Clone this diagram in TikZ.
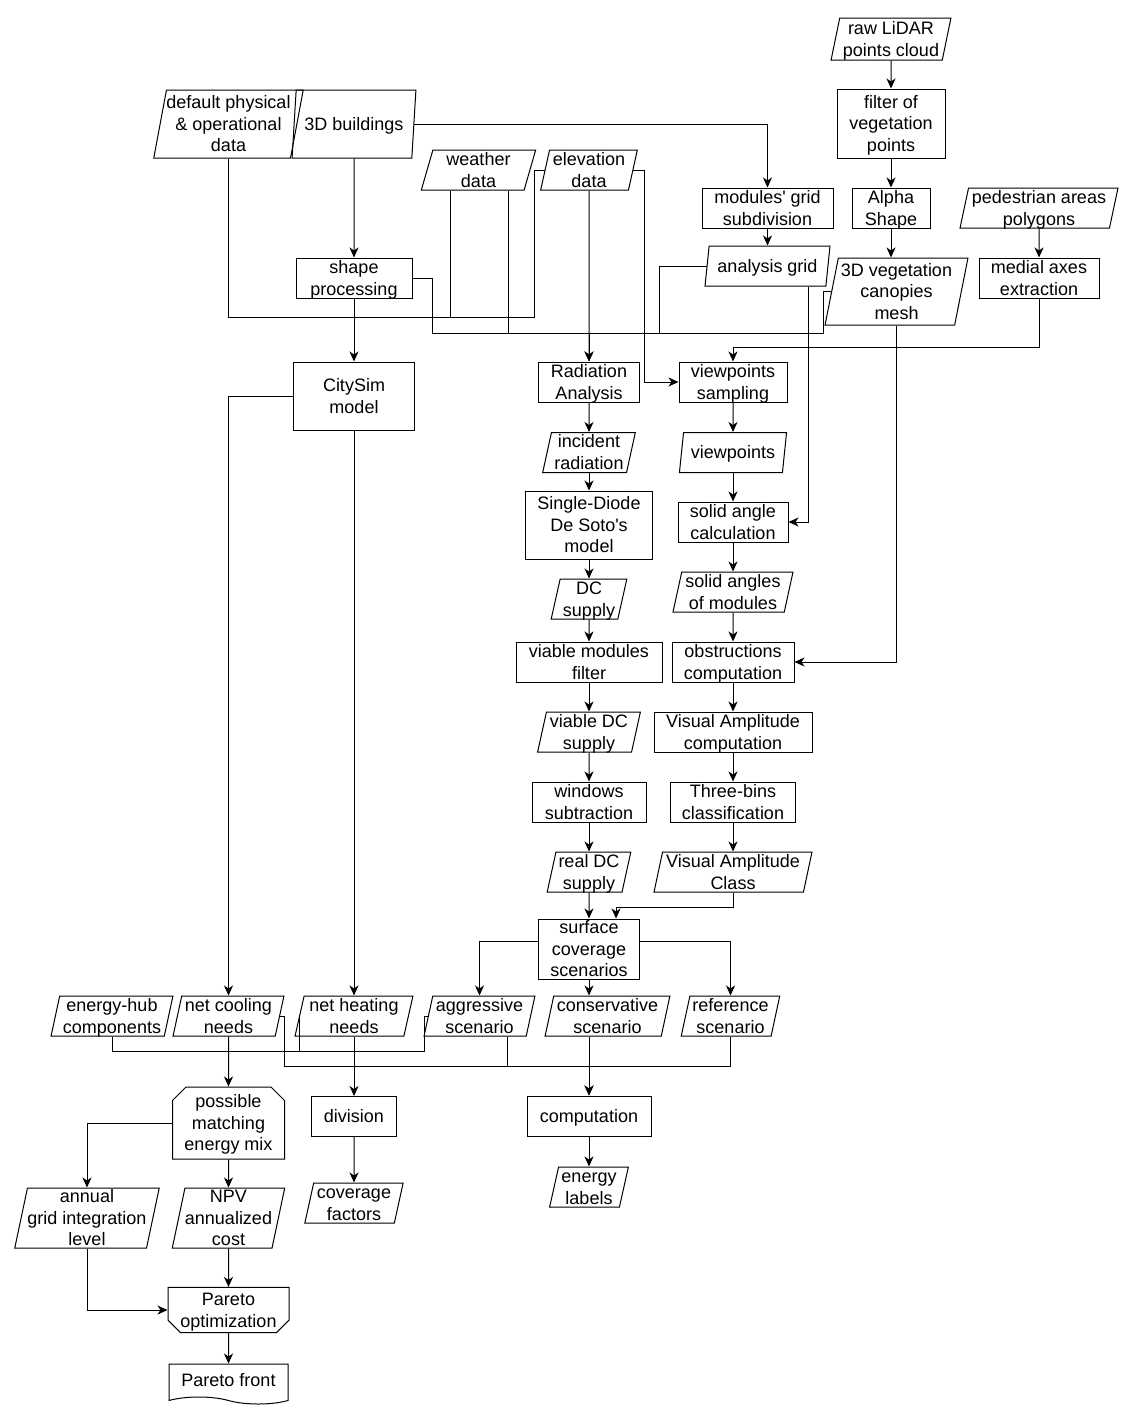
\documentclass[tikz,border=0pt]{standalone}
\usepackage{fontspec}
\setmainfont{Liberation Sans}
\usetikzlibrary{arrows.meta,shapes.geometric,shapes.misc,shapes.symbols}

\begin{document}
\begin{tikzpicture}[x=1pt,y=-1pt,line width=1pt,font=\fontsize{18}{21.6}\selectfont,>={Stealth[length=10pt,width=9pt,inset=3pt]},
  wh/.style 2 args={minimum width=#1pt,minimum height=#2pt},
  txt/.style={align=center,inner xsep=0pt,inner ysep=-2.5pt,text height=38.6pt,text depth=4.5pt},
  one/.style={text height=17pt},
  three/.style={text height=60.2pt},
  proc/.style={draw,rectangle,txt},
  data/.style={draw,trapezium,trapezium left angle=78,trapezium right angle=102,trapezium stretches=true,txt},
  mixbox/.style={draw,chamfered rectangle,chamfered rectangle corners={north west,north east},chamfered rectangle xsep=10pt,txt},
  optbox/.style={draw,chamfered rectangle,chamfered rectangle corners={south west,south east},chamfered rectangle xsep=9pt,txt},
  docbox/.style={draw,tape,tape bend top=none,tape bend bottom=out and in,tape bend height=7pt,txt}]
\useasboundingbox (0,0) rectangle (1134,1416);
\node[data,wh={120}{42}] (raw) at (891,39) {raw LiDAR\\points cloud};
\node[proc,three,wh={108}{69}] (filter) at (891,123.5) {filter of\\vegetation\\points};
\node[proc,wh={78}{40}] (alpha) at (891,208) {Alpha\\Shape};
\node[data,wh={158}{40}] (ped) at (1039,208) {pedestrian areas\\polygons};
\node[data,three,wh={143}{67}] (vegmesh) at (896.5,291.5) {3D vegetation\\canopies\\mesh};
\node[proc,wh={120}{40}] (medial) at (1039,278) {medial axes\\extraction};
\node[data,three,wh={149}{68}] (dflt) at (228.5,124) {default physical\\\& operational\\data};
\node[data,one,wh={124}{68}] (bldg) at (354,124) {3D buildings};
\node[data,wh={115}{40}] (weather) at (478.5,170) {weather\\data};
\node[data,wh={97}{40}] (elev) at (589,170) {elevation\\data};
\node[proc,wh={131}{40}] (modgrid) at (767.5,208) {modules\textquotesingle{} grid\\subdivision};
\node[data,one,wh={125}{40}] (anagrid) at (767.5,266) {analysis grid};
\node[proc,wh={116}{40}] (shape) at (354,278) {shape\\processing};
\node[proc,wh={121}{68}] (citysim) at (354,396) {CitySim\\model};
\node[proc,wh={101}{40}] (radan) at (589,382) {Radiation\\Analysis};
\node[proc,wh={108}{40}] (vps) at (733,382) {viewpoints\\sampling};
\node[data,wh={93}{40}] (incident) at (589,452.5) {incident\\radiation};
\node[data,one,wh={108}{40}] (vp) at (733,452.5) {viewpoints};
\node[proc,three,wh={127}{68}] (sdiode) at (589,525) {Single-Diode\\De Soto\textquotesingle s\\model};
\node[proc,wh={110}{40}] (solidcalc) at (733,522) {solid angle\\calculation};
\node[data,wh={76}{40}] (dc) at (589,599) {DC\\supply};
\node[data,wh={120}{40}] (solidang) at (733,592) {solid angles\\of modules};
\node[proc,wh={146}{40}] (viable) at (589,662) {viable modules\\filter};
\node[proc,wh={122}{40}] (obstr) at (733,662) {obstructions\\computation};
\node[data,wh={103}{40}] (vdc) at (589,732) {viable DC\\supply};
\node[proc,wh={158}{40}] (vacomp) at (733,732) {Visual Amplitude\\computation};
\node[proc,wh={114}{40}] (windows) at (589,802) {windows\\subtraction};
\node[proc,wh={125}{40}] (threebins) at (733,802) {Three-bins\\classification};
\node[data,wh={84}{40}] (rdc) at (589,872) {real DC\\supply};
\node[data,wh={158}{40}] (vac) at (733,872) {Visual Amplitude\\Class};
\node[proc,three,wh={101}{60}] (surf) at (589,949) {surface\\coverage\\scenarios};
\node[data,wh={122}{40}] (hub) at (112,1016) {energy-hub\\components};
\node[data,wh={111}{40}] (cool) at (228.5,1016) {net cooling\\needs};
\node[data,wh={118}{40}] (heat) at (354,1016) {net heating\\needs};
\node[data,wh={111}{40}] (aggr) at (479.5,1016) {aggressive\\scenario};
\node[data,wh={125}{40}] (cons) at (607.5,1016) {conservative\\scenario};
\node[data,wh={99}{40}] (ref) at (730.5,1016) {reference\\scenario};
\node[mixbox,three,wh={112}{72}] (mix) at (228.5,1123) {possible\\matching\\energy mix};
\node[proc,one,wh={85}{40}] (division) at (354,1116.5) {division};
\node[proc,one,wh={124}{40}] (comp) at (589,1116) {computation};
\node[data,wh={79}{40}] (labels) at (589,1187) {energy\\labels};
\node[data,three,wh={142}{60}] (annual) at (87,1218) {annual\\grid integration\\level};
\node[data,three,wh={111}{60}] (npv) at (228.5,1218) {NPV\\annualized\\cost};
\node[data,wh={99}{40}] (covf) at (354,1203) {coverage\\factors};
\node[optbox,wh={121}{40}] (pareto) at (228.5,1310) {Pareto\\optimization};
\node[docbox,one,wh={119}{40}] (front) at (228.5,1380.5) {Pareto front};
\draw[->] (raw) -- (filter);
\draw[->] (filter) -- (alpha);
\draw[->] (alpha.south) -- (alpha.south |- vegmesh.north);
\draw[->] (ped) -- (medial);
\draw[->] (bldg.east) -| (modgrid.north);
\draw[->] (modgrid) -- (anagrid);
\draw[->] (bldg) -- (shape);
\draw[->] (shape) -- (citysim);
\draw (dflt.south) |- (534,317) |- (elev.west);
\draw ([xshift=-28.5pt]weather.south) -- ++(0,127);
\draw[->] ([xshift=29.5pt]weather.south) |- (589,333) -- (radan.north);
\draw[->] (elev) -- (radan);
\draw (shape.east) -- ++(20,0) |- (589,333);
\draw (anagrid.west) -| (659,333);
\draw (vegmesh.west) -- ++(-8,0) |- (589,333);
\draw[->] (elev.east) -- ++(11,0) |- (vps.west);
\draw[->] (medial.south) -- ++(0,49) -| (vps.north);
\draw[->] (vps) -- (vp);
\draw[->] (vp) -- (solidcalc);
\draw[->] (solidcalc) -- (solidang);
\draw[->] (solidang) -- (obstr);
\draw[->] (obstr) -- (vacomp);
\draw[->] (vacomp) -- (threebins);
\draw[->] (threebins) -- (vac);
\draw[->] ([xshift=40.5pt]anagrid.south) |- (solidcalc.east);
\draw[->] (vegmesh.south) |- (obstr.east);
\draw[->] (radan) -- (incident);
\draw[->] (incident) -- (sdiode);
\draw[->] (sdiode) -- (dc);
\draw[->] (dc) -- (viable);
\draw[->] (viable) -- (vdc);
\draw[->] (vdc) -- (windows);
\draw[->] (windows) -- (rdc);
\draw[->] (rdc) -- (surf);
\draw[->] (vac.south) -- ++(0,15) -| ([xshift=27pt]surf.north);
\draw[->] ([yshift=8pt]surf.west) -| (aggr.north);
\draw[->] (surf) -- (surf |- cons.north);
\draw[->] ([yshift=8pt]surf.east) -| (ref.north);
\draw[->] (citysim.west) -| (cool.north);
\draw[->] (citysim) -- (citysim |- heat.north);
\draw[->] (cool) -- (cool |- mix.north);
\draw (hub.south) |- (424,1051) |- (aggr.west);
\draw (heat.west) -- ++(0,35);
\draw[->] (cool.east) -- ++(4,0) |- (589,1066) -- (comp.north);
\draw ([xshift=27.5pt]aggr.south) |- (589,1066);
\draw[->] (cons.south -| comp.north) -- (comp.north);
\draw (ref.south) |- (589,1066);
\draw[->] (heat) -- (division);
\draw[->] (division) -- (covf);
\draw[->] (comp) -- (labels);
\draw[->] (mix.west) -| (annual.north);
\draw[->] (mix) -- (mix |- npv.north);
\draw[->] (annual.south) |- (pareto.west);
\draw[->] (npv) -- (pareto);
\draw[->] (pareto) -- (front);
\end{tikzpicture}
\end{document}
